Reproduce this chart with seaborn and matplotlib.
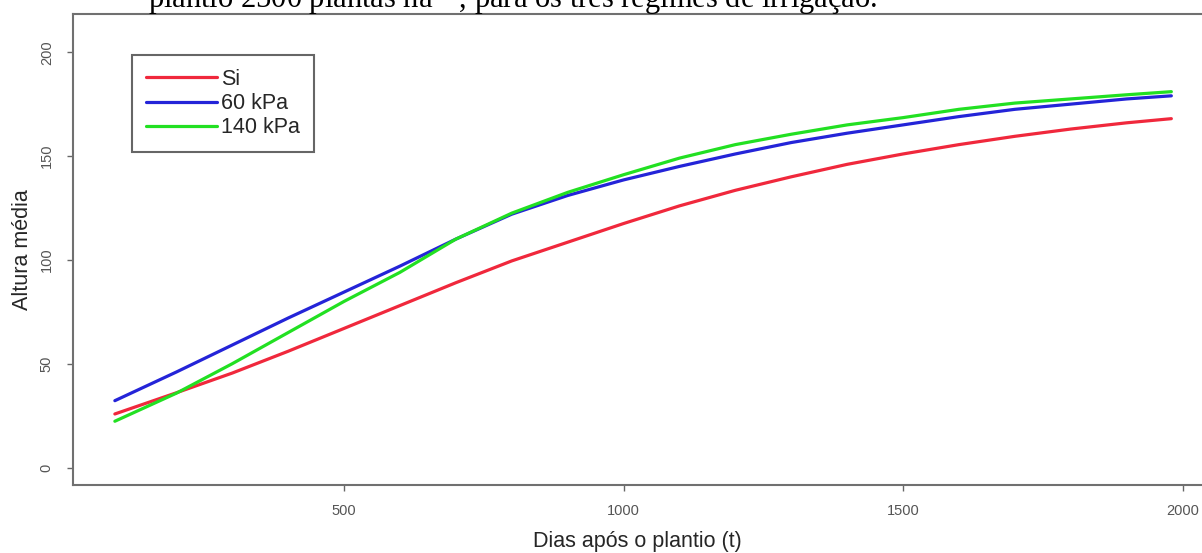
import numpy as np
import pandas as pd
import matplotlib
matplotlib.use("Agg")
import matplotlib.pyplot as plt
import seaborn as sns

# curve values (days after planting -> mean height)
dias = [90, 200, 300, 400, 500, 600, 700, 800, 900, 1000,
        1100, 1200, 1300, 1400, 1500, 1600, 1700, 1800, 1900, 1980]
si = [25.8, 36, 45.5, 56, 67, 78, 89, 99.5, 108.5, 117.5,
      126, 133.5, 140, 146, 151, 155.5, 159.5, 163, 166, 168]
kpa60 = [32.2, 46, 59, 72, 84.5, 97, 110, 122, 131, 138.5,
         145, 151, 156.5, 161, 165, 169, 172.5, 175, 177.5, 179]
kpa140 = [22.3, 35.8, 50, 65, 80, 94, 110, 122.5, 132.5, 141,
          149, 155.5, 160.5, 165, 168.5, 172.5, 175.5, 177.5, 179.5, 181]
tratamentos = ["Si", "60 kPa", "140 kPa"]
cores = {"Si": "#f0283c", "60 kPa": "#2424d8", "140 kPa": "#22e022"}

df = pd.concat([
    pd.DataFrame({"dias": dias, "altura": v, "trat": nome})
    for nome, v in zip(tratamentos, [si, kpa60, kpa140])
], ignore_index=True)

sns.set_style("white")
plt.rcParams["font.family"] = ["Liberation Sans", "DejaVu Sans"]

W, H = 1202, 553
fig = plt.figure(figsize=(W / 100, H / 100), dpi=100)
# plot region runs past the right edge, as in the cropped reference
left, right, top, bottom = 72.6, 1213.6, 14, 485
ax = fig.add_axes([left / W, 1 - bottom / H, (right - left) / W, (bottom - top) / H])

sns.lineplot(data=df, x="dias", y="altura", hue="trat", hue_order=tratamentos,
             palette=cores, estimator=None, sort=False, linewidth=2.3, ax=ax)

ax.set_xlim(14.4, 2055.6)
ax.set_ylim(-8.4, 218.4)
ax.set_xticks([500, 1000, 1500, 2000])
ax.set_yticks([0, 50, 100, 150, 200])
ax.tick_params(axis="both", direction="out", length=4.5, width=1, color="#666666",
               labelsize=10.5, labelcolor="#555555", pad=9, bottom=True, left=True)
for lab in ax.get_yticklabels():
    lab.set_rotation(90)
    lab.set_va("center")
for s in ax.spines.values():
    s.set_color("#707070")
    s.set_linewidth(1.5)

ax.set_xlabel("Dias após o plantio (t)", fontsize=15.5, va="center")
ax.xaxis.set_label_coords((637 - left) / (right - left), (bottom - 542) / (bottom - top))
ax.set_ylabel("Altura média", fontsize=15.5, va="center")
ax.yaxis.set_label_coords((23 - left) / (right - left), 0.5)

handles, labels = ax.get_legend_handles_labels()
leg = ax.legend(handles, labels, loc="upper left",
                bbox_to_anchor=(132 / W, 1 - 55 / H), bbox_transform=fig.transFigure,
                borderaxespad=0, fontsize=15.5, handlelength=3.3, handletextpad=0.2,
                labelspacing=0.15, borderpad=0.65, fancybox=False, framealpha=1)
leg.get_frame().set_edgecolor("#666666")
leg.get_frame().set_linewidth(1.5)
for h in leg.get_lines():
    h.set_linewidth(2.3)

# caption of the source document, cut off by the top of the image (as in the reference)
plt.rcParams["mathtext.fontset"] = "stix"
fig.text(148 / W, 1 - 8 / H,
         "plantio 2500 plantas ha$^{-1}$, para os três regimes de irrigação.",
         family=["Liberation Serif", "DejaVu Serif"], fontsize=22, va="baseline",
         ha="left", color="black")

fig.savefig("out.png", dpi=100)
